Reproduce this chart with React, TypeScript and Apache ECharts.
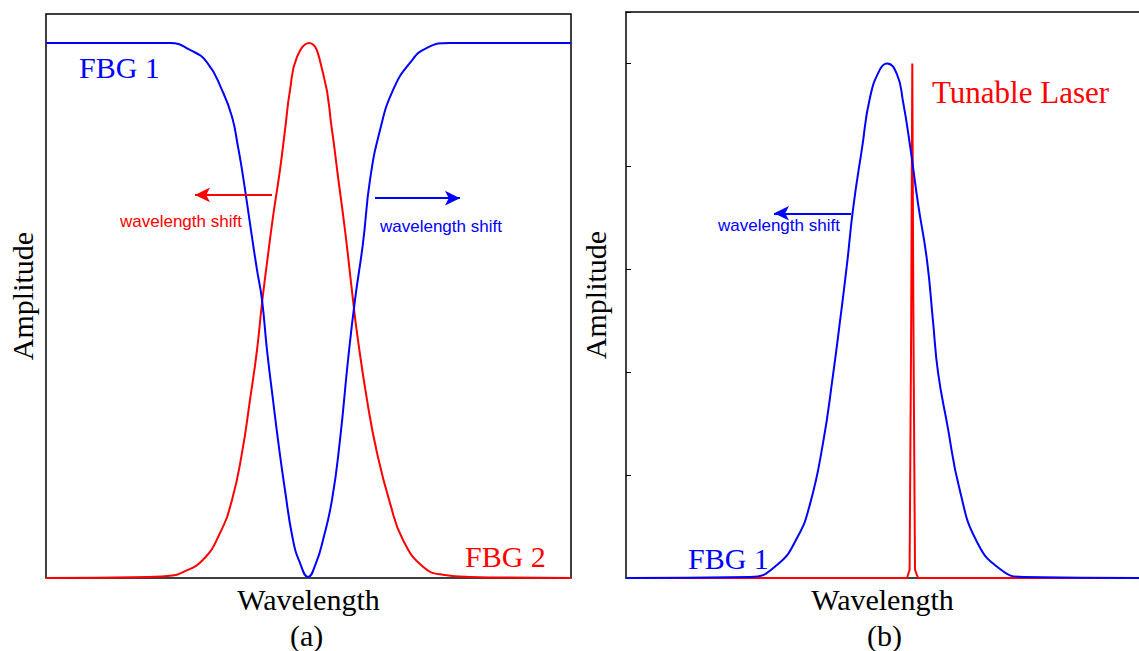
import React, { useEffect, useRef } from "react";
import * as echarts from "echarts";

// Panel (a): x in arbitrary wavelength units, y normalised amplitude
const fbg1TransA: [number, number][] = [
  [0, 1.0], [124, 1.0], [144, 0.987], [161, 0.964], [176, 0.912], [186, 0.862],
  [192, 0.806], [196, 0.763], [201, 0.701], [206, 0.637], [211, 0.576], [216, 0.52],
  [221, 0.426], [227, 0.333], [232, 0.258], [239, 0.164], [247, 0.071], [254, 0.028],
  [262, 0.002], [270, 0.028], [277, 0.071], [286, 0.146], [294, 0.258], [302, 0.407],
  [309, 0.52], [317, 0.626], [324, 0.744], [334, 0.837], [347, 0.912], [364, 0.963],
  [381, 0.991], [404, 1.0], [525, 1.0],
];
const fbg2ReflA: [number, number][] = [
  [0, 0], [104, 0.002], [124, 0.004], [137, 0.011], [157, 0.034], [174, 0.084],
  [186, 0.146], [196, 0.234], [204, 0.333], [211, 0.426], [216, 0.514], [221, 0.589],
  [227, 0.675], [234, 0.763], [239, 0.837], [244, 0.912], [251, 0.974], [263, 1.0],
  [277, 0.944], [286, 0.837], [292, 0.75], [299, 0.65], [307, 0.52], [311, 0.458],
  [321, 0.333], [331, 0.234], [344, 0.14], [357, 0.071], [377, 0.021], [397, 0.006],
  [424, 0.002], [525, 0],
];
// Panel (b)
const fbg1ReflB: [number, number][] = [
  [0, 0], [124, 0.01], [151, 0.126], [171, 0.388], [184, 0.718], [197, 1.311],
  [207, 1.971], [214, 2.495], [221, 3.049], [227, 3.583], [236, 4.175], [244, 4.67],
  [254, 4.942], [261, 5.0], [271, 4.893], [277, 4.631], [284, 4.204], [292, 3.641],
  [301, 3.087], [307, 2.495], [312, 2.0], [321, 1.505], [334, 0.845], [351, 0.35],
  [374, 0.087], [397, 0.01], [513, 0],
];
const laserB: [number, number][] = [
  [0, 0], [281, 0], [283.6, 0.08], [285.2, 2.5], [286.3, 5.0], [287.4, 2.5],
  [289.0, 0.08], [292, 0], [513, 0],
];
const yTicksB = [0, 1, 2, 3, 4, 5];

const BLUE = "#0000ff";
const RED = "#ff0000";
const SERIF = "'Liberation Serif', 'Times New Roman', serif";
const SANS = "'Liberation Sans', Arial, sans-serif";

export default function App() {
  const ref = useRef<HTMLDivElement>(null);
  useEffect(() => {
    if (!ref.current) return;
    const chart = echarts.init(ref.current, undefined, { renderer: "svg" });
    const arrow = (from: number[], to: number[], color: string) => ({
      silent: true,
      symbol: ["none", "arrow"],
      symbolSize: [11, 15],
      label: { show: false },
      lineStyle: { color, width: 2, type: "solid" },
      data: [[{ coord: from }, { coord: to }]],
    });
    const yName = {
      nameLocation: "middle",
      nameRotate: 90,
      nameTextStyle: { fontFamily: SERIF, fontSize: 30, color: "#000" },
    };
    const xName = {
      nameLocation: "middle",
      nameTextStyle: { fontFamily: SERIF, fontSize: 30, color: "#000" },
    };
    const hidden = {
      axisLine: { show: false }, axisTick: { show: false }, axisLabel: { show: false }, splitLine: { show: false },
    };
    const blackLine = { show: true, lineStyle: { color: "#000", width: 1.5 } };
    chart.setOption({
      animation: false,
      backgroundColor: "#fff",
      grid: [
        { left: 46, top: 14, width: 525, height: 564, show: true, borderColor: "#000", borderWidth: 1.5, backgroundColor: "transparent" },
        { left: 626, top: 12, right: 0, height: 566, show: false },
      ],
      xAxis: [
        { gridIndex: 0, type: "value", min: 0, max: 525, name: "Wavelength", nameGap: 6, ...xName, ...hidden },
        {
          gridIndex: 1, type: "value", min: 0, max: 513, name: "Wavelength", nameGap: 6, ...xName, ...hidden,
          axisLine: blackLine,
        },
        {
          gridIndex: 1, type: "value", min: 0, max: 513, position: "top", ...hidden, axisLine: blackLine,
        },
      ],
      yAxis: [
        { gridIndex: 0, type: "value", min: 0, max: 1.0542, name: "Amplitude", nameGap: 9, ...yName, ...hidden },
        {
          gridIndex: 1, type: "value", min: yTicksB[0], max: 5.5, interval: 1, name: "Amplitude", nameGap: 16, ...yName,
          axisLine: blackLine,
          axisTick: { show: true, inside: true, length: 5, lineStyle: { color: "#000" } },
          axisLabel: { show: false }, splitLine: { show: false },
        },
      ],
      series: [
        {
          name: "FBG 2", type: "line", xAxisIndex: 0, yAxisIndex: 0, data: fbg2ReflA, showSymbol: false,
          smooth: 0.5, lineStyle: { color: RED, width: 2 }, itemStyle: { color: RED },
          markLine: arrow([226, 0.716], [149, 0.716], RED),
        },
        {
          name: "FBG 1", type: "line", xAxisIndex: 0, yAxisIndex: 0, data: fbg1TransA, showSymbol: false,
          smooth: 0.5, lineStyle: { color: BLUE, width: 2 }, itemStyle: { color: BLUE },
          markLine: arrow([329, 0.71], [414, 0.71], BLUE),
        },
        {
          name: "Tunable Laser", type: "line", xAxisIndex: 1, yAxisIndex: 1, data: laserB, showSymbol: false,
          smooth: false, lineStyle: { color: RED, width: 2 }, itemStyle: { color: RED },
        },
        {
          name: "FBG 1 (b)", type: "line", xAxisIndex: 1, yAxisIndex: 1, data: fbg1ReflB, showSymbol: false,
          smooth: 0.5, lineStyle: { color: BLUE, width: 2 }, itemStyle: { color: BLUE },
          markLine: arrow([225, 3.544], [148, 3.544], BLUE),
        },
      ],
      graphic: [
        { type: "text", left: 79, top: 52, style: { text: "FBG 1", fill: BLUE, font: `30px ${SERIF}` } },
        { type: "text", left: 465, top: 541, style: { text: "FBG 2", fill: RED, font: `30px ${SERIF}` } },
        { type: "text", left: 932, top: 77, style: { text: "Tunable Laser", fill: RED, font: `31px ${SERIF}` } },
        { type: "text", left: 688, top: 543, style: { text: "FBG 1", fill: BLUE, font: `30px ${SERIF}` } },
        { type: "text", left: 120, top: 213, style: { text: "wavelength shift", fill: RED, font: `17px ${SANS}` } },
        { type: "text", left: 380, top: 218, style: { text: "wavelength shift", fill: BLUE, font: `17px ${SANS}` } },
        { type: "text", left: 718, top: 217, style: { text: "wavelength shift", fill: BLUE, font: `17px ${SANS}` } },
        { type: "text", left: 290, top: 620, style: { text: "(a)", fill: "#000", font: `30px ${SERIF}` } },
        { type: "text", left: 867, top: 620, style: { text: "(b)", fill: "#000", font: `30px ${SERIF}` } },
      ],
    });
    return () => chart.dispose();
  }, []);
  return <div ref={ref} style={{ position: "fixed", left: 0, top: 0, width: 1139, height: 651 }} />;
}
